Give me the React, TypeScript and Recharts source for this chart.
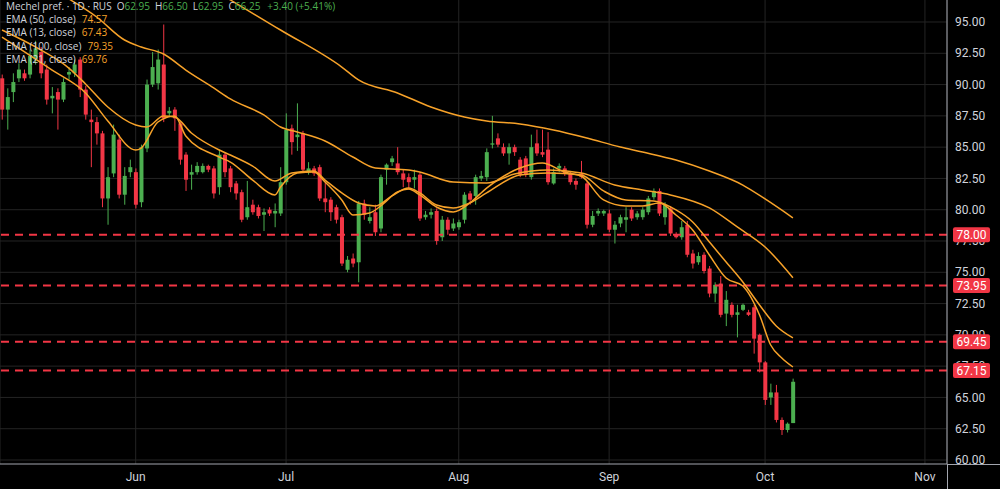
import React from 'react';
import { ComposedChart, Bar, Line, XAxis, YAxis, CartesianGrid, ReferenceLine } from 'recharts';

// ---- candle data (daily) ----
const opens = [
  90.5, 88.0, 89.4, 90.5, 90.9, 90.8, 92.0, 92.6, 91.2, 88.9,
  89.4, 88.8, 90.8, 90.9, 92.0, 89.6, 87.2, 87.0, 86.1, 80.9,
  82.9, 85.6, 81.2, 83.0, 83.0, 80.6, 84.9, 90.0, 90.1, 91.6,
  87.7, 88.0, 86.9, 84.4, 82.8, 83.0, 83.0, 83.5, 83.3, 81.8,
  84.4, 83.3, 82.1, 81.4, 79.4, 80.4, 80.2, 79.6, 80.0, 79.7,
  79.7, 82.2, 86.5, 85.8, 86.1, 83.0, 83.3, 83.4, 80.9, 80.8,
  80.2, 79.4, 75.2, 76.1, 75.8, 80.5, 79.1, 79.8, 78.5, 83.2,
  83.8, 83.7, 82.9, 82.6, 82.4, 82.8, 79.4, 79.6, 79.9, 77.8,
  79.2, 78.5, 78.6, 79.2, 81.3, 81.1, 82.5, 82.6, 85.2, 85.7,
  85.0, 84.5, 85.0, 84.0, 84.1, 82.6, 85.3, 84.6, 84.8, 82.1,
  83.3, 83.3, 82.9, 82.3, 82.9, 82.1, 78.8, 79.7, 79.7, 79.7,
  78.4, 78.9, 79.2, 80.0, 79.4, 79.4, 79.8, 81.0, 81.5, 79.4,
  80.1, 78.0, 77.8, 78.8, 76.5, 75.8, 76.4, 75.3, 73.3, 74.1,
  71.7, 72.4, 71.6, 72.0, 71.8, 72.2, 70.0, 67.8, 65.0, 65.4,
  63.2, 62.4, 62.95,
];
const closes = [
  88.0, 89.0, 90.2, 91.2, 90.5, 92.3, 92.9, 90.9, 88.8, 89.1,
  88.8, 90.2, 91.0, 91.6, 89.6, 87.6, 87.0, 86.1, 80.9, 82.6,
  86.0, 81.2, 82.7, 83.4, 80.4, 85.0, 90.0, 91.4, 92.0, 87.3,
  87.9, 87.3, 84.0, 82.4, 83.0, 83.5, 83.5, 83.2, 81.3, 84.4,
  83.0, 81.8, 81.3, 79.2, 80.2, 79.8, 79.5, 79.8, 79.7, 79.9,
  82.2, 86.4, 85.4, 86.0, 83.2, 83.3, 82.9, 80.9, 80.6, 79.8,
  79.2, 75.7, 76.0, 75.7, 80.5, 79.6, 79.4, 78.2, 82.6, 83.6,
  84.1, 83.0, 82.4, 82.2, 82.6, 79.3, 79.6, 79.8, 77.5, 79.2,
  78.4, 78.9, 79.0, 81.2, 80.8, 82.6, 82.7, 84.6, 85.3, 85.2,
  84.5, 85.0, 84.6, 82.8, 82.8, 85.0, 84.5, 84.4, 82.2, 83.0,
  83.5, 82.9, 82.2, 82.0, 82.6, 78.8, 79.5, 79.9, 79.9, 78.4,
  78.8, 79.4, 79.4, 79.3, 79.7, 80.0, 80.9, 81.5, 79.7, 80.4,
  78.1, 77.8, 78.6, 76.4, 75.7, 76.3, 75.1, 73.3, 74.0, 71.6,
  72.8, 71.6, 71.8, 72.4, 71.6, 69.7, 67.8, 64.8, 65.4, 63.2,
  62.4, 62.9, 66.25,
];
const highs = [
  90.8, 89.7, 90.9, 91.7, 91.2, 92.8, 93.5, 93.0, 91.6, 89.8,
  89.7, 90.5, 91.4, 92.0, 92.2, 89.9, 88.0, 87.4, 86.3, 83.4,
  86.8, 86.0, 83.4, 84.0, 83.3, 85.2, 90.4, 92.6, 92.8, 94.8,
  88.2, 88.2, 87.0, 84.6, 83.6, 83.8, 83.7, 83.6, 83.5, 84.8,
  84.6, 83.5, 82.3, 81.6, 82.3, 80.8, 80.4, 80.1, 80.2, 80.5,
  83.4, 87.7, 86.8, 88.5, 86.3, 83.8, 83.5, 83.6, 82.2, 81.0,
  80.4, 79.6, 76.3, 76.5, 80.7, 80.8, 80.2, 80.4, 82.8, 83.7,
  84.3, 85.0, 83.2, 82.9, 83.2, 83.0, 79.9, 80.1, 80.1, 79.5,
  79.4, 79.3, 79.2, 81.4, 81.5, 82.8, 83.1, 84.9, 87.5, 86.1,
  85.3, 85.3, 85.2, 84.2, 84.3, 86.0, 86.4, 86.4, 86.2, 83.3,
  83.7, 83.5, 83.1, 82.5, 83.9, 82.3, 79.9, 80.1, 80.0, 80.0,
  79.1, 79.6, 80.2, 80.2, 79.9, 80.2, 81.1, 81.7, 81.7, 80.6,
  80.3, 78.2, 79.1, 79.1, 76.8, 76.6, 76.6, 75.5, 74.2, 74.7,
  73.5, 72.6, 72.4, 72.5, 72.0, 72.4, 70.1, 67.9, 66.1, 66.0,
  63.4, 63.0, 66.5,
];
const lows = [
  87.2, 86.4, 88.6, 90.2, 90.3, 90.5, 91.6, 90.5, 88.4, 87.7,
  86.4, 88.6, 90.4, 90.6, 89.0, 87.2, 83.4, 85.2, 80.2, 78.8,
  82.6, 80.9, 80.4, 82.6, 80.1, 80.2, 84.6, 89.8, 89.6, 87.0,
  87.4, 86.3, 83.6, 81.5, 81.6, 82.8, 82.9, 83.0, 80.9, 81.2,
  82.6, 81.4, 80.8, 79.0, 79.2, 79.6, 79.3, 78.3, 79.5, 78.6,
  79.5, 82.0, 84.4, 84.7, 83.0, 82.8, 82.7, 80.7, 79.8, 79.1,
  78.9, 75.5, 75.0, 75.4, 74.2, 79.2, 78.9, 77.9, 78.2, 82.0,
  83.5, 82.8, 81.8, 81.6, 81.7, 79.1, 79.2, 79.3, 77.2, 77.5,
  78.0, 78.3, 78.4, 78.9, 80.4, 80.4, 82.3, 82.3, 84.9, 85.0,
  84.3, 83.6, 84.3, 82.6, 82.6, 82.4, 84.3, 84.2, 82.0, 82.0,
  83.0, 82.7, 82.0, 81.6, 82.5, 78.5, 78.6, 79.5, 79.5, 78.2,
  77.3, 78.6, 78.2, 79.1, 79.2, 79.2, 79.6, 80.8, 79.5, 78.8,
  77.9, 77.7, 77.6, 76.2, 75.3, 75.6, 74.9, 73.0, 72.6, 71.4,
  70.7, 71.4, 69.8, 71.9, 71.5, 68.5, 67.0, 64.4, 64.4, 63.0,
  62.0, 62.2, 62.95,
];

// ---- EMA lines (read at sample bars) ----
const ema100Idx = [0, 27, 41, 50, 61, 64, 71, 77, 83, 87, 93, 99, 105, 111, 115, 121, 127, 133, 137, 142];
const ema100Val = [105.5, 100.4, 96.76, 94.36, 91.4, 90.37, 89.33, 88.21, 87.41, 87.09, 86.85, 86.37, 85.73, 85.01, 84.61, 83.97, 83.09, 81.97, 80.86, 79.35];

const ema50Idx = [0, 10, 17, 22, 25, 29, 33, 38, 41, 47, 50, 53, 58, 63, 67, 73, 75, 81, 87, 92, 98, 104, 110, 115, 120, 127, 132, 137, 142];
const ema50Val = [100.35, 97.4, 95.4, 93.56, 93.0, 92.44, 91.16, 89.73, 88.85, 87.57, 86.61, 86.21, 85.49, 84.21, 83.33, 83.17, 83.01, 82.21, 82.13, 82.85, 83.17, 82.93, 81.97, 81.57, 81.18, 80.14, 78.62, 77.02, 74.57];

const ema21Idx = [0, 7, 12, 15, 19, 24, 26, 29, 31, 34, 39, 41, 45, 49, 52, 56, 58, 61, 64, 67, 70, 73, 75, 78, 81, 84, 87, 93, 98, 104, 108, 112, 117, 121, 124, 127, 130, 133, 136, 139, 142];
const ema21Val = [94.36, 92.76, 91.32, 90.05, 88.21, 86.77, 86.61, 87.49, 87.41, 86.13, 84.77, 84.37, 83.49, 82.29, 82.93, 83.09, 82.37, 81.34, 80.54, 80.3, 81.1, 81.73, 81.34, 80.38, 80.14, 80.54, 81.34, 82.77, 82.93, 82.77, 81.5, 80.78, 80.7, 79.98, 79.02, 77.42, 75.82, 74.22, 72.39, 70.71, 69.76];

const ema13Idx = [0, 9, 15, 19, 24, 25, 28, 31, 33, 39, 41, 45, 49, 50, 53, 56, 58, 61, 63, 66, 68, 71, 73, 75, 78, 81, 84, 87, 93, 97, 101, 104, 108, 112, 115, 118, 121, 124, 127, 130, 133, 136, 138, 140, 142];
const ema13Val = [93.8, 91.16, 89.33, 87.09, 84.77, 84.93, 87.01, 87.49, 85.89, 84.21, 83.81, 82.37, 81.18, 81.81, 82.93, 83.01, 82.21, 80.78, 79.58, 79.74, 80.3, 81.42, 81.66, 81.18, 80.22, 79.82, 80.54, 81.73, 83.33, 83.73, 83.01, 82.69, 80.78, 80.3, 80.3, 80.54, 79.58, 78.38, 76.38, 74.54, 73.9, 71.59, 69.19, 68.15, 67.43];

// ---- axes / levels ----
const monthTicks = [24, 51, 82, 109, 137, 165.7];
const monthLabels = ['Jun', 'Jul', 'Aug', 'Sep', 'Oct', 'Nov'];
const priceTicks = [60, 62.5, 65, 67.5, 70, 72.5, 75, 77.5, 80, 82.5, 85, 87.5, 90, 92.5, 95];
const levels = [78.0, 73.95, 69.45, 67.15];
const priceDomain = [59.68, 96.758];
// price-scale ticks first, level tags last so the tags are painted over the scale labels
const axisTicks = [...priceTicks, ...levels];

const legendTitle = 'Mechel pref. · 1D · RUS';
const legendOHLC = [
  ['O', '62.95'],
  ['H', '66.50'],
  ['L', '62.95'],
  ['C', '66.25'],
];
const legendChange = '+3.40 (+5.41%)';
const emaLegendNames = ['EMA (50, close)', 'EMA (13, close)', 'EMA (100, close)', 'EMA (21, close)'];
const emaLegendValues = ['74.57', '67.43', '79.35', '69.76'];

const GREEN = '#4caf50';
const RED = '#f23645';
const ORANGE = '#f7a229';
const TEXT = '#d1d4dc';
const AXIS = '#a3a6af';

const candles = opens.map((o, i) => ({
  i,
  open: o,
  high: highs[i],
  low: lows[i],
  close: closes[i],
  range: [lows[i], highs[i]],
}));

const toLine = (idx: number[], val: number[]) => idx.map((i, k) => ({ i, v: val[k] }));
const ema100 = toLine(ema100Idx, ema100Val);
const ema50 = toLine(ema50Idx, ema50Val);
const ema21 = toLine(ema21Idx, ema21Val);
const ema13 = toLine(ema13Idx, ema13Val);

const Candle = (props: any) => {
  const { x, y, width, height, payload } = props;
  if (!payload || !isFinite(y) || !isFinite(height)) return null;
  const { open, close, high, low } = payload;
  const k = height / (high - low);
  const yOf = (v: number) => y + (high - v) * k;
  const up = close >= open;
  const color = up ? GREEN : RED;
  const top = yOf(Math.max(open, close));
  const bot = yOf(Math.min(open, close));
  const cx = x + width / 2;
  return (
    <g>
      <line x1={cx} x2={cx} y1={y} y2={y + height} stroke={color} strokeWidth={1} />
      <rect x={x} y={top} width={width} height={Math.max(1, bot - top)} fill={color} />
    </g>
  );
};

const PriceTick = (props: any) => {
  const { x, y, payload, index } = props;
  const v = Number(payload.value);
  const isLevel = index >= priceTicks.length;
  if (isLevel) {
    const w = 37;
    const lx = x - 2;
    return (
      <g>
        <rect x={lx} y={y - 7.5} width={w} height={15} rx={2} fill={RED} />
        <text x={lx + w / 2} y={y} dy="0.35em" textAnchor="middle" fill="#ffffff" fontSize={12}>
          {v.toFixed(2)}
        </text>
      </g>
    );
  }
  return (
    <text x={x} y={y} dy="0.35em" textAnchor="start" fill={TEXT} fontSize={12}>
      {v.toFixed(2)}
    </text>
  );
};

export default function App() {
  return (
    <div
      style={{
        position: 'absolute',
        left: 0,
        top: 0,
        width: 1000,
        height: 489,
        background: '#000000',
        fontFamily: 'Roboto, "Noto Sans", sans-serif',
        overflow: 'hidden',
      }}
    >
      <ComposedChart
        width={1000}
        height={489}
        data={candles}
        margin={{ top: 0, right: 0, bottom: 0, left: 0 }}
      >
        <CartesianGrid stroke="#242424" strokeWidth={1} horizontalValues={priceTicks} />
        <XAxis
          dataKey="i"
          type="number"
          domain={[-0.36, 169.66]}
          allowDataOverflow
          ticks={monthTicks}
          interval={0}
          tickFormatter={(v: number) => monthLabels[monthTicks.indexOf(v)] ?? ''}
          height={25}
          tickLine={false}
          axisLine={{ stroke: AXIS }}
          tick={{ fill: TEXT, fontSize: 12 }}
        />
        <YAxis
          orientation="right"
          type="number"
          domain={priceDomain}
          allowDataOverflow
          ticks={axisTicks}
          interval={0}
          width={53}
          tickLine={false}
          axisLine={{ stroke: AXIS }}
          tick={<PriceTick />}
        />
        {levels.map((lv) => (
          <ReferenceLine key={lv} y={lv} stroke={RED} strokeWidth={2} strokeDasharray="8 6" />
        ))}
        <Bar dataKey="range" barSize={4} shape={<Candle />} isAnimationActive={false} />
        <Line data={ema100} dataKey="v" type="monotone" stroke={ORANGE} strokeWidth={1.5} dot={false} activeDot={false} isAnimationActive={false} />
        <Line data={ema50} dataKey="v" type="monotone" stroke={ORANGE} strokeWidth={1.5} dot={false} activeDot={false} isAnimationActive={false} />
        <Line data={ema21} dataKey="v" type="monotone" stroke={ORANGE} strokeWidth={1.5} dot={false} activeDot={false} isAnimationActive={false} />
        <Line data={ema13} dataKey="v" type="monotone" stroke={ORANGE} strokeWidth={1.5} dot={false} activeDot={false} isAnimationActive={false} />
      </ComposedChart>
      <div style={{ position: 'absolute', left: 947, top: 464, width: 53, height: 1, background: AXIS }} />
      <div style={{ position: 'absolute', left: 947, top: 464, width: 1, height: 25, background: AXIS }} />
      <div
        style={{
          position: 'absolute',
          left: 6,
          top: 0,
          fontFamily: '"Open Sans", sans-serif',
          fontSize: 10,
          lineHeight: '13.2px',
          color: TEXT,
          whiteSpace: 'nowrap',
          pointerEvents: 'none',
        }}
      >
        <div>
          {legendTitle}
          {legendOHLC.map(([k, v]) => (
            <span key={k} style={{ marginLeft: 5 }}>
              {k}
              <span style={{ color: GREEN }}>{v}</span>
            </span>
          ))}
          <span style={{ marginLeft: 7, color: GREEN }}>{legendChange}</span>
        </div>
        {emaLegendNames.map((n, k) => (
          <div key={n}>
            {n}
            <span style={{ marginLeft: 6, color: ORANGE }}>{emaLegendValues[k]}</span>
          </div>
        ))}
      </div>
    </div>
  );
}
